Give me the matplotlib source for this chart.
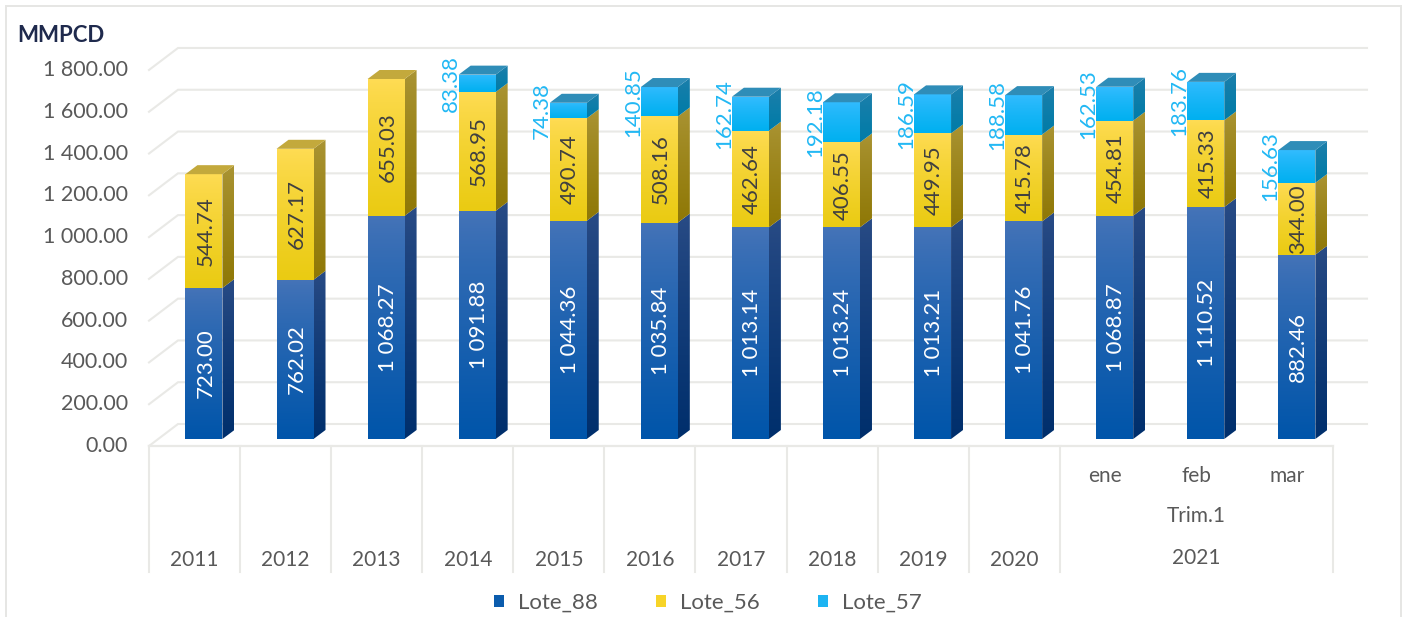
import numpy as np
import matplotlib
matplotlib.use("Agg")
import matplotlib.pyplot as plt
from matplotlib.colors import to_rgb
from matplotlib.lines import Line2D
from matplotlib.patches import Polygon, Patch
from matplotlib.transforms import ScaledTranslation

# ---------- data ----------
categories = ["2011", "2012", "2013", "2014", "2015", "2016", "2017", "2018",
              "2019", "2020", "ene", "feb", "mar"]
lote_88 = [723.00, 762.02, 1068.27, 1091.88, 1044.36, 1035.84, 1013.14, 1013.24,
           1013.21, 1041.76, 1068.87, 1110.52, 882.46]
lote_56 = [544.74, 627.17, 655.03, 568.95, 490.74, 508.16, 462.64, 406.55,
           449.95, 415.78, 454.81, 415.33, 344.00]
lote_57 = [0, 0, 0, 83.38, 74.38, 140.85, 162.74, 192.18,
           186.59, 188.58, 162.53, 183.76, 156.63]
y_ticks = [0, 200, 400, 600, 800, 1000, 1200, 1400, 1600, 1800]
series_names = ["Lote_88", "Lote_56", "Lote_57"]

# ---------- style ----------
W, H = 1405, 617
FONT = "Lato"
TXT = "#595959"
GRID = "#E9E9E6"
plt.rcParams["font.family"] = [FONT, "DejaVu Sans"]

styles = {
    "Lote_88": dict(front=("#4674B8", "#0055AA"), side=("#2A4C86", "#002F6C"), top="#2F5C9E",
                    legend="#0B5CAD", label="white"),
    "Lote_56": dict(front=("#FFDC55", "#EACB12"), side=("#AB9535", "#8F7806"), top="#C3A93C",
                    legend="#F7D428", label="#404040"),
    "Lote_57": dict(front=("#35BCFF", "#00B0F0"), side=("#1F7FAB", "#007CA8"), top="#2F8DB8",
                    legend="#1DB4F2", label="#22B8F4"),
}

PX_Y = 0.2089       # pixels per data unit
AX_L, AX_R = 149, 1333
AX_BOT, AX_TOP = 446, 48
ZERO_PX = 439
PX_X = (AX_R - AX_L) / 13

fig = plt.figure(figsize=(W / 100, H / 100), dpi=100, facecolor="white")
ax = fig.add_axes([AX_L / W, 1 - AX_BOT / H, (AX_R - AX_L) / W, (AX_BOT - AX_TOP) / H])
ax.patch.set_visible(False)
for s in ax.spines.values():
    s.set_visible(False)


def px_y(p):
    """pixel row -> data value"""
    return (ZERO_PX - p) / PX_Y


def grad(verts, c_top, c_bot, z):
    xs, ys = zip(*verts)
    a, b = np.array(to_rgb(c_top)), np.array(to_rgb(c_bot))
    # slightly faster change at the top, as in the reference gradient
    t = np.linspace(0, 1, 128)[:, None, None] ** 0.8
    img = a[None, None, :] * (1 - t) + b[None, None, :] * t
    im = ax.imshow(img, extent=(min(xs), max(xs), min(ys), max(ys)), aspect="auto",
                   origin="upper", interpolation="bilinear", zorder=z)
    im.set_clip_path(Polygon(verts, closed=True, transform=ax.transData))


# ---------- depth grid ----------
back_dx = 29 / PX_X
back_dy = 22 / PX_Y
grid_right = (1367 - AX_L) / PX_X - 0.5
floor = px_y(AX_BOT)
for v in y_ticks:
    ax.plot([-0.5, -0.5 + back_dx, grid_right],
            [floor + v, floor + v + back_dy, floor + v + back_dy],
            color=GRID, lw=1.5, clip_on=False, zorder=1, solid_joinstyle="miter")
ax.plot([-0.5, 12.5], [floor, floor], color=GRID, lw=1.6, clip_on=False, zorder=1)
sep_bottom = px_y(572)
for b in list(np.arange(-0.5, 10)) + [12.5]:
    ax.plot([b, b], [floor, sep_bottom], color=GRID, lw=1.5, clip_on=False, zorder=1)

# ---------- bars ----------
bar_off = -0.10
bar_w = 37 / PX_X
d_x = 12 / PX_X
d_y = 9 / PX_Y

cum = np.zeros(len(categories))
for name, vals in zip(series_names, [lote_88, lote_56, lote_57]):
    st = styles[name]
    for i, v in enumerate(vals):
        if v <= 0:
            continue
        L, R = i + bar_off, i + bar_off + bar_w
        y0, y1 = cum[i], cum[i] + v
        grad([(L, y0), (R, y0), (R, y1), (L, y1)], *st["front"], 5)
        grad([(R, y0), (R + d_x, y0 + d_y), (R + d_x, y1 + d_y), (R, y1)], *st["side"], 4)
        is_top = (name == "Lote_57") or (name == "Lote_56" and lote_57[i] == 0)
        if is_top:
            ax.add_patch(Polygon([(L, y1), (R, y1), (R + d_x, y1 + d_y), (L + d_x, y1 + d_y)],
                                 closed=True, fc=st["top"], ec="none", zorder=5))
        mid = (y0 + y1) / 2
        if name == "Lote_57":
            ax.text(L - 8 / PX_X, mid, f"{v:.2f}", rotation=90, ha="center", va="center",
                    rotation_mode="anchor", color=st["label"], fontsize=16, zorder=7, clip_on=False)
        else:
            txt = f"{v:,.2f}".replace(",", " ")
            ax.text(i + bar_off + bar_w / 2 + 1.5 / PX_X, mid, txt, rotation=90, ha="center",
                    va="center", rotation_mode="anchor", color=st["label"], fontsize=16, zorder=7)
    cum += np.array(vals)

# ---------- axes scales ----------
ax.set_xlim(-0.5, 12.5)
ax.set_ylim(px_y(AX_BOT), px_y(AX_TOP))
ax.set_yticks(y_ticks)
ax.set_yticklabels([f"{v:,.2f}".replace(",", " ") for v in y_ticks], fontsize=15.5, color=TXT)
ax.tick_params(axis="y", length=0, pad=15)
shift = ScaledTranslation(0, -5 / 100, fig.dpi_scale_trans)
for lab in ax.get_yticklabels():
    lab.set_transform(lab.get_transform() + shift)

ax.set_xticks(range(len(categories)))
ax.set_xticklabels(categories, fontsize=15, color=TXT)
ax.tick_params(axis="x", length=0)
for i, t in enumerate(ax.xaxis.get_major_ticks()):
    t.set_pad((20 if i >= 10 else 104.5) * 0.72)

ax.text(11, px_y(516.5), "Trim.1", ha="center", va="center", fontsize=15, color=TXT, clip_on=False)
ax.text(11, px_y(558.5), "2021", ha="center", va="center", fontsize=15, color=TXT, clip_on=False)

# ---------- title, legend, frame ----------
fig.text(17 / W, 1 - 35 / H, "MMPCD", fontsize=16, fontweight="bold", color="#1F2A4D",
         ha="left", va="center")

handles = [Patch(fc=styles[n]["legend"], ec="none", label=n) for n in series_names]
leg = fig.legend(handles=handles, loc="center", bbox_to_anchor=(708 / W, 1 - 603 / H),
                 ncol=3, frameon=False, fontsize=16, labelcolor=TXT,
                 handlelength=0.45, handleheight=0.45, handletextpad=0.65, columnspacing=2.6,
                 borderpad=0)

for xs, ys in [([5.5, 5.5], [617, 6]), ([5.5, 1401], [6, 6]), ([1401, 1401], [6, 617])]:
    fig.add_artist(Line2D([x / W for x in xs], [1 - y / H for y in ys], color="#E6E6E4", lw=1.4))

fig.savefig("out.png", dpi=100, facecolor="white")
